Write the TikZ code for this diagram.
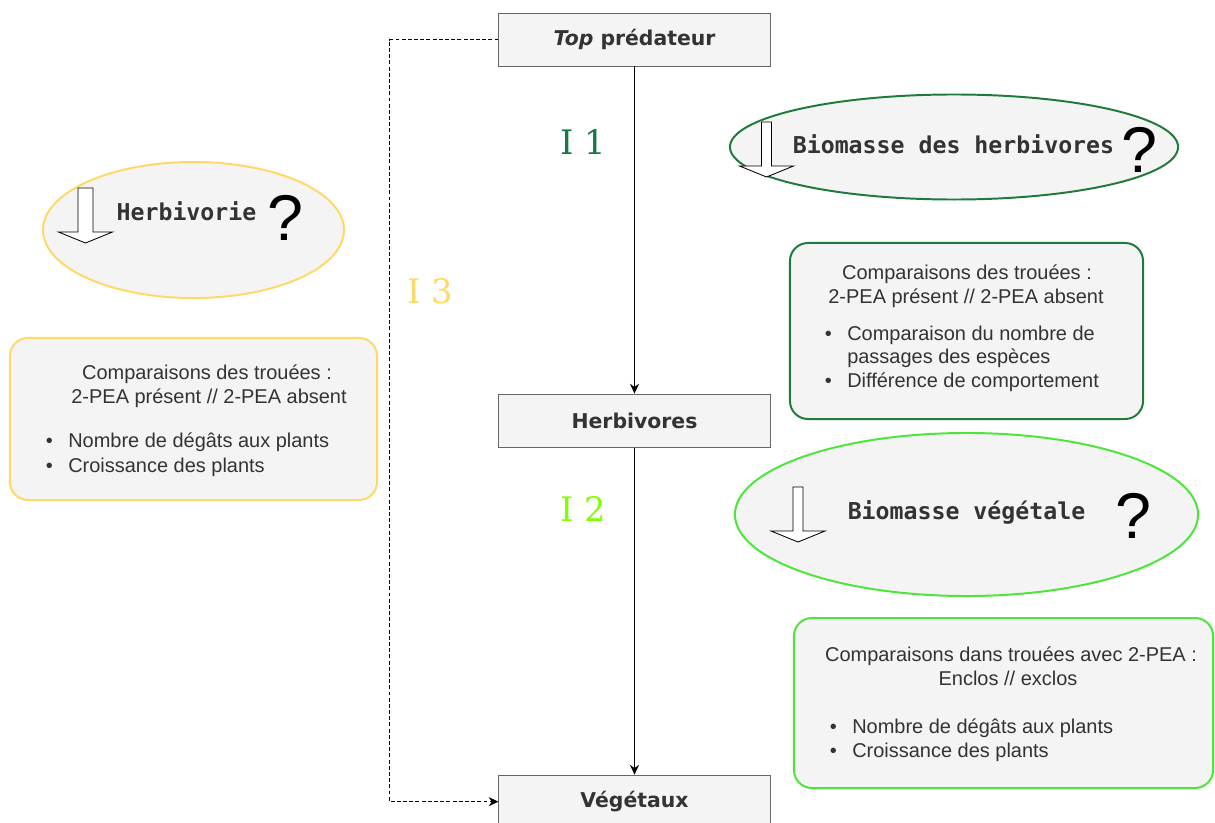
\documentclass[tikz,border=0pt]{standalone}
\usepackage{fontspec}
\setmainfont{Liberation Sans}
\newfontfamily\titlefont{DejaVu Sans}
\newfontfamily\monofont{DejaVu Sans Mono}
\newfontfamily\ilabelfont{DejaVu Serif}
\usetikzlibrary{arrows.meta, positioning, shapes.geometric}
\definecolor{mYellow}{HTML}{FFD966}
\definecolor{mDkGreen}{HTML}{217A3C}
\definecolor{mLtGreen}{HTML}{4CE63A}
\definecolor{mLabelOne}{HTML}{127A42}
\definecolor{mLabelTwo}{HTML}{80FF00}
\definecolor{mFill}{HTML}{F4F4F4}
\definecolor{mBorder}{HTML}{666666}
\definecolor{mText}{HTML}{333333}
\newcommand{\itm}{\llap{\textbullet\hspace{11pt}}}

\tikzset{
  level/.style={draw=mBorder, fill=mFill, line width=0.7pt, minimum width=6.775cm,
    minimum height=1.325cm, inner sep=0pt, text=mText,
    font=\titlefont\bfseries\fontsize{14.5}{17}\selectfont},
  question/.style={ellipse, fill=mFill, line width=1.4pt, inner sep=0pt},
  note/.style={rounded corners=0.45cm, fill=mFill, line width=1.4pt, inner sep=0pt},
  txt/.style={anchor=base, inner sep=0pt, text=mText, font=\fontsize{14.2}{17}\selectfont},
  bigtxt/.style={anchor=base, inner sep=0pt, text=mText,
    font=\monofont\bfseries\fontsize{16.5}{19}\selectfont},
  qmark/.style={anchor=base, inner sep=0pt, font=\fontsize{46}{50}\selectfont},
  ilabel/.style={inner sep=0pt, font=\ilabelfont\fontsize{24}{28}\selectfont},
  pics/hollowdown/.style={code={
    \draw[fill=white, line width=0.6pt] (-#1,0) -- (-#1,44) -- (-27,44) -- (0,55)
      -- (27,44) -- (#1,44) -- (#1,0) -- cycle;
  }},
}

\begin{document}
\begin{tikzpicture}[x=0.025cm, y=-0.025cm]
  \fill[white] (0,0) rectangle (1215,822);
  \useasboundingbox (0,0) rectangle (1215,822);

  % trophic levels
  \node[level] (top) at (634.5,39.5) {\textit{Top} prédateur};
  \node[level, below=8.175cm of top] (herb) {Herbivores};
  \node[level, below=8.175cm of herb] (veg) {Végétaux};

  \draw[line width=0.8pt, -{Stealth[length=7pt, width=6.5pt]}] (top) -- (herb);
  \draw[line width=0.8pt, -{Stealth[length=7pt, width=6.5pt]}] (herb) -- (veg);
  \draw[line width=0.7pt, dash pattern=on 2.8pt off 1.6pt, -{Stealth[length=7pt, width=6.5pt]}]
    (top.west) -- ++(-109,0) |- (veg.west);

  \node[ilabel, text=mLabelOne] (i1) at (583,142) {I 1};
  \node[ilabel, text=mLabelTwo] (i2) at (583,509) {I 2};
  \node[ilabel, text=mYellow] (i3) at (430,291) {I 3};

  % hypotheses
  \node[question, draw=mDkGreen, minimum width=11.2cm, minimum height=2.625cm] (e1) at (954,147) {};
  \pic at (766.5,122) {hollowdown=5};
  \node[bigtxt] (e1t) at (953.5,153) {Biomasse des herbivores};
  \node[qmark] (e1q) at (1139,172) {?};

  \node[question, draw=mYellow, minimum width=7.525cm, minimum height=3.4cm] (e3) at (193.5,230) {};
  \pic at (85.5,188) {hollowdown=7.5};
  \node[bigtxt] (e3t) at (186.5,220) {Herbivorie};
  \node[qmark] (e3q) at (285,240) {?};

  \node[question, draw=mLtGreen, minimum width=11.575cm, minimum height=4.075cm] (e2) at (966.5,514.5) {};
  \pic at (798,487) {hollowdown=5};
  \node[bigtxt] (e2t) at (966.5,519) {Biomasse végétale};
  \node[qmark] (e2q) at (1133,538) {?};

  % protocols
  \node[note, draw=mYellow, minimum width=9.175cm, minimum height=4.05cm] (p3) at (193.5,419) {};
  \node[txt] (p3a) at (207,379) {Comparaisons des trouées :};
  \node[txt] (p3b) at (209,403) {2-PEA présent // 2-PEA absent};
  \node[txt, anchor=base west] (p3c) at (68,447) {\itm Nombre de dégâts aux plants};
  \node[txt, anchor=base west] (p3d) at (68,472) {\itm Croissance des plants};

  \node[note, draw=mDkGreen, minimum width=8.825cm, minimum height=4.4cm] (p1) at (966.5,331) {};
  \node[txt] (p1a) at (967,279) {Comparaisons des trouées :};
  \node[txt] (p1b) at (966,303) {2-PEA présent // 2-PEA absent};
  \node[txt, anchor=base west] (p1c) at (847,340) {\itm Comparaison du nombre de};
  \node[txt, anchor=base west] (p1d) at (847,363) {passages des espèces};
  \node[txt, anchor=base west] (p1e) at (847,387) {\itm Différence de comportement};

  \node[note, draw=mLtGreen, minimum width=10.475cm, minimum height=4.25cm] (p2) at (1003.5,703) {};
  \node[txt] (p2a) at (1011,661) {Comparaisons dans trouées avec 2-PEA :};
  \node[txt] (p2b) at (1008,685) {Enclos // exclos};
  \node[txt, anchor=base west] (p2c) at (852,733) {\itm Nombre de dégâts aux plants};
  \node[txt, anchor=base west] (p2d) at (852,757) {\itm Croissance des plants};
\end{tikzpicture}
\end{document}
